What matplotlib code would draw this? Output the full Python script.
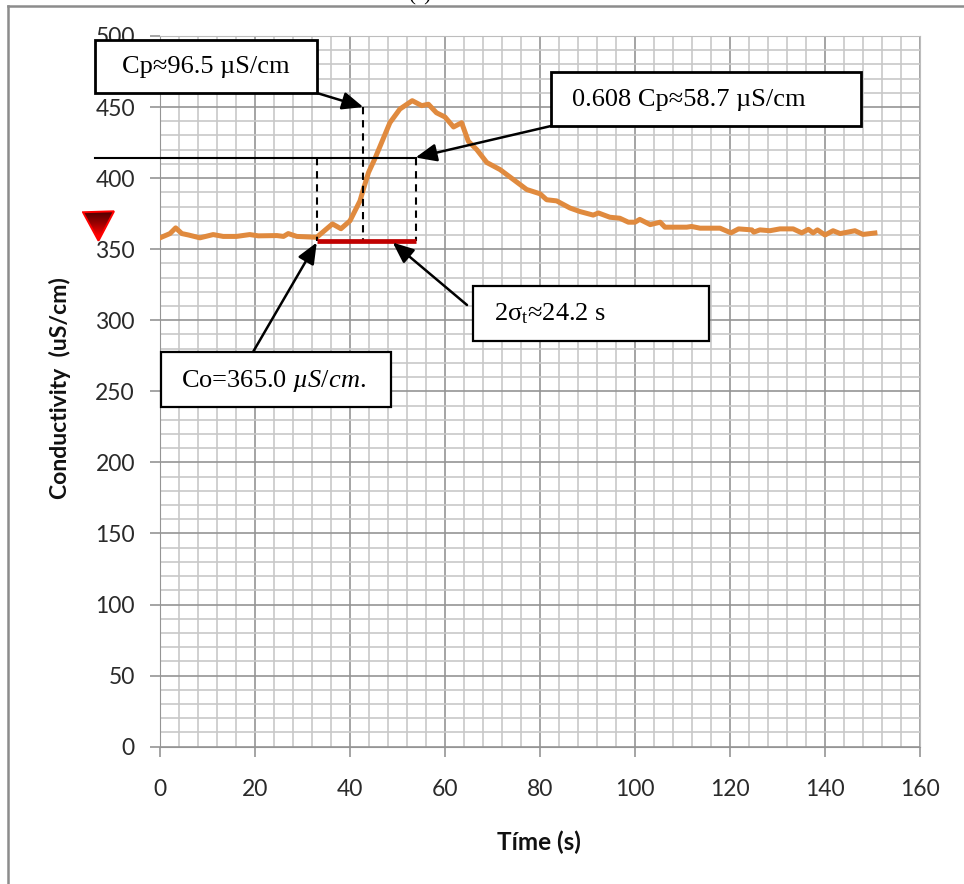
import matplotlib
matplotlib.use('Agg')
import matplotlib.pyplot as plt
import numpy as np
from matplotlib.patches import Polygon, Rectangle
from matplotlib.lines import Line2D

# Conductivity trace
time_s = [0, 2.1, 3.3, 4.6, 6, 8.4, 11.2, 13.3, 16.1, 18.9, 20.7, 24.6, 26, 27, 28.8, 33,
          36.3, 38.1, 40, 42.1, 42.8, 43.9, 45.2, 46.9, 48.4, 50.5, 53.1, 55.1, 56.5, 58.2,
          60, 61.8, 63.5, 64.9, 66.7, 68.8, 71.6, 74.4, 77.2, 80, 81.4, 83.5, 86.3, 88.4,
          91.2, 92.3, 94.7, 96.8, 98.6, 100, 101, 103.2, 105.3, 106.3, 110.9, 111.9, 113.7,
          117.9, 120.2, 121.8, 124.6, 125, 126.3, 128.4, 130.5, 133.3, 135.1, 136.5, 137.5,
          138.4, 140, 141.7, 143.2, 146.3, 148, 150.5]
conductivity = [358, 361, 365, 361, 360, 358, 360.3, 359, 359, 360.3, 359.4, 359.6, 359, 361, 359, 358.4,
                367.8, 364.4, 370, 384, 392, 404, 413.4, 427, 439, 448.6, 454.5, 451, 452, 446,
                443, 436, 439, 426, 420, 411, 406, 399, 392, 389, 384.8, 384, 379, 376.5,
                374, 375.5, 372.5, 371.8, 369, 369, 371, 367.3, 369, 365.5, 365.5, 366, 364.8,
                364.8, 361.5, 364.3, 363.6, 362, 363.6, 363, 364.3, 364.3, 361.5, 364, 361.5,
                363.6, 360, 363, 361, 363, 360.4, 361.4]

# Construction lines of the peak measurement
x_left = 33.0
x_peak = 42.8
x_right = 53.8
y_peak = 450
y_level = 414.5
y_bar = 355.7
x_level_start = -13.7

x_ticks = [0, 20, 40, 60, 80, 100, 120, 140, 160]
y_ticks = [0, 50, 100, 150, 200, 250, 300, 350, 400, 450, 500]

W, H = 964, 884
SERIF = 'Liberation Serif'
SANS = 'Lato'


def fx(px):
    return px / W


def fy(py):
    return 1 - py / H


def add_box(fig, x0, y0, x1, y1, lw=2.0):
    fig.add_artist(Rectangle((fx(x0), fy(y1)), (x1 - x0) / W, (y1 - y0) / H,
                             transform=fig.transFigure, fc='white', ec='black', lw=lw, zorder=5))


def add_arrow(ax, start_px, target):
    ax.annotate('', xy=target, xycoords='data',
                xytext=(fx(start_px[0]), fy(start_px[1])), textcoords='figure fraction',
                arrowprops=dict(arrowstyle='-|>,head_length=0.85,head_width=0.36', color='black',
                                lw=1.8, shrinkA=0, shrinkB=0, mutation_scale=15),
                annotation_clip=False, zorder=6)


plt.rcParams['mathtext.fontset'] = 'custom'
plt.rcParams['mathtext.rm'] = SERIF
plt.rcParams['mathtext.it'] = SERIF + ':italic'

fig = plt.figure(figsize=(W / 100, H / 100), dpi=100)
ax = fig.add_axes([fx(160), fy(746.7), (920 - 160) / W, (746.7 - 36) / H])

ax.set_xlim(0, 160)
ax.set_ylim(0, 500)
ax.set_xticks(x_ticks)
ax.set_yticks(y_ticks)
ax.set_xticks(np.arange(0, 161, 4), minor=True)
ax.set_yticks(np.arange(0, 501, 10), minor=True)
ax.set_axisbelow(True)
ax.grid(which='minor', color='#c8c8c8', lw=1.2)
ax.grid(which='major', color='#959595', lw=1.2)
ax.tick_params(which='minor', length=0)
ax.tick_params(which='major', length=7, width=1.2, color='#959595', labelsize=16.5, labelcolor='#2a2a2a')
ax.tick_params(axis='x', pad=16)
ax.tick_params(axis='y', pad=11)
for label in ax.get_xticklabels() + ax.get_yticklabels():
    label.set_family(SANS)
for side in ['top', 'right']:
    ax.spines[side].set_color('#bdbdbd')
for side in ['left', 'bottom']:
    ax.spines[side].set_color('#959595')

ax.plot(time_s, conductivity, color='#e08a3e', lw=3.6, solid_joinstyle='round', zorder=3)

# Level line and dashed drops down to the red width bar
dash = (0, (3.5, 2.8))
ax.plot([x_level_start, x_right], [y_level, y_level], color='black', lw=1.5, clip_on=False, zorder=4)
ax.plot([x_left, x_left], [y_level, y_bar], color='black', lw=1.5, ls=dash, zorder=4)
ax.plot([x_peak, x_peak], [y_peak, y_bar], color='black', lw=1.5, ls=dash, zorder=4)
ax.plot([x_right, x_right], [y_level, y_bar], color='black', lw=1.5, ls=dash, zorder=4)
ax.plot([x_left, x_right], [y_bar, y_bar], color='#c00000', lw=3.4, solid_capstyle='butt', zorder=5)

add_arrow(ax, (317, 93), (x_peak, y_peak))
add_arrow(ax, (551, 126), (x_right, y_level))
add_arrow(ax, (253, 352), (x_left, y_bar - 1))
add_arrow(ax, (467, 305), (49, y_bar - 1))

fig.text(fx(60), fy(388), 'Conductivity  (uS/cm)', rotation=90, ha='center', va='center',
         family=SANS, weight='bold', fontsize=16.6, color='#111111')
fig.text(fx(539), fy(842), 'Tíme (s)', ha='center', va='center',
         family=SANS, weight='bold', fontsize=17.5, color='#111111')

# Annotation boxes
add_box(fig, 95, 40, 317, 93)
add_box(fig, 551, 72, 861, 126)
add_box(fig, 473, 286, 709, 341, lw=1.6)
add_box(fig, 161, 352, 391, 407, lw=1.6)
box_kw = dict(family=SERIF, fontsize=19, color='black', va='center', ha='left', zorder=6)
fig.text(fx(122), fy(67), 'Cp≈96.5 µS/cm', **box_kw)
fig.text(fx(572), fy(100), '0.608 Cp≈58.7 µS/cm', **box_kw)
fig.text(fx(494), fy(314), r'2σ$_{\mathrm{t}}$≈24.2 s', **box_kw)
fig.text(fx(181), fy(381), r'Co=$\mathit{365.0}$ $\mathit{µS/cm}$.', **box_kw)

# Clipped caption at the top edge
fig.text(fx(420), fy(-4), '(a)', family=SERIF, fontsize=15, ha='center', va='center', color='black')

# Page frame, top and left only
fig.add_artist(Line2D([fx(8), 1], [fy(6), fy(6)], color='#8c8c8c', lw=1.8))
fig.add_artist(Line2D([fx(8), fx(8)], [fy(6), 0], color='#8c8c8c', lw=1.8))

# Red triangle with a dark gradient
tri_ax = fig.add_axes([fx(82), fy(242), 33 / W, 32 / H])
tri_ax.axis('off')
cmap = matplotlib.colors.LinearSegmentedColormap.from_list('tri', ['#500000', '#a00000', '#ff0000'])
grad = tri_ax.imshow(np.linspace(0, 1, 64).reshape(-1, 1), extent=(0.03, 0.97, 0.2, 0.95), aspect='auto',
                     cmap=cmap, zorder=1)
tri_ax.set_xlim(0, 1)
tri_ax.set_ylim(0, 1)
corners = [(0.03, 0.93), (0.97, 0.96), (0.5, 0.04)]
tri = Polygon(corners, closed=True, fc='#ff0000', ec='none', transform=tri_ax.transData, zorder=0)
tri_ax.add_patch(tri)
grad.set_clip_path(tri)
tri_ax.add_patch(Polygon(corners, closed=True, fc='none', ec='#ff0000', lw=1.4, zorder=2))

fig.savefig('out.png', dpi=100)
